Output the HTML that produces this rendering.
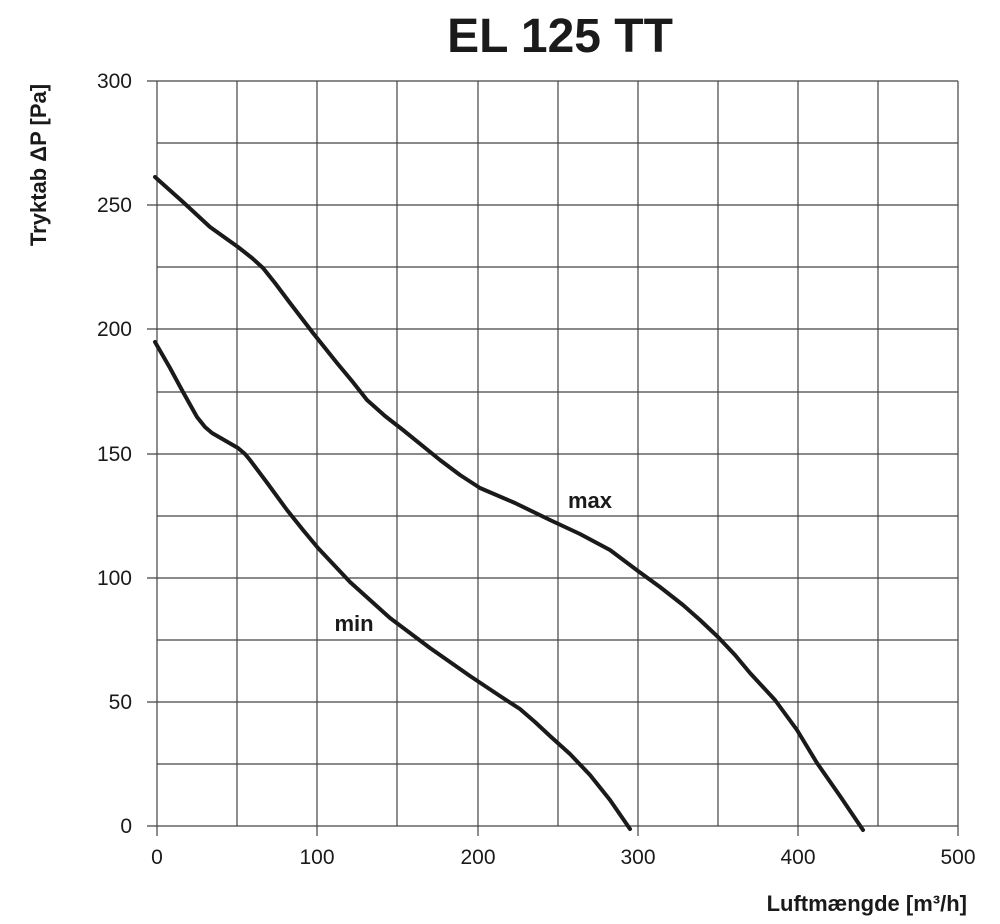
<!DOCTYPE html>
<html><head><meta charset="utf-8"><style>
html,body{margin:0;padding:0;background:#fff}
svg{display:block}
text{font-family:"Liberation Sans",sans-serif;fill:#1a1a1a}
</style></head><body>
<svg width="1000" height="924" viewBox="0 0 1000 924">
<rect width="1000" height="924" fill="#fff"/>
<g stroke="#444" stroke-width="1.2" fill="none">
<line x1="157" y1="81" x2="157" y2="826"/>
<line x1="237" y1="81" x2="237" y2="826"/>
<line x1="317" y1="81" x2="317" y2="826"/>
<line x1="397" y1="81" x2="397" y2="826"/>
<line x1="478" y1="81" x2="478" y2="826"/>
<line x1="558" y1="81" x2="558" y2="826"/>
<line x1="638" y1="81" x2="638" y2="826"/>
<line x1="718" y1="81" x2="718" y2="826"/>
<line x1="798" y1="81" x2="798" y2="826"/>
<line x1="878" y1="81" x2="878" y2="826"/>
<line x1="958" y1="81" x2="958" y2="826"/>
<line x1="147" y1="81" x2="958" y2="81"/>
<line x1="157" y1="143" x2="958" y2="143"/>
<line x1="147" y1="205" x2="958" y2="205"/>
<line x1="157" y1="267" x2="958" y2="267"/>
<line x1="147" y1="329" x2="958" y2="329"/>
<line x1="157" y1="392" x2="958" y2="392"/>
<line x1="147" y1="454" x2="958" y2="454"/>
<line x1="157" y1="516" x2="958" y2="516"/>
<line x1="147" y1="578" x2="958" y2="578"/>
<line x1="157" y1="640" x2="958" y2="640"/>
<line x1="147" y1="702" x2="958" y2="702"/>
<line x1="157" y1="764" x2="958" y2="764"/>
<line x1="147" y1="826" x2="958" y2="826"/>
<line x1="157" y1="826" x2="157" y2="836"/>
<line x1="317" y1="826" x2="317" y2="836"/>
<line x1="478" y1="826" x2="478" y2="836"/>
<line x1="638" y1="826" x2="638" y2="836"/>
<line x1="798" y1="826" x2="798" y2="836"/>
<line x1="958" y1="826" x2="958" y2="836"/>
</g>
<g stroke="#1a1a1a" stroke-width="4" fill="none" stroke-linejoin="round" stroke-linecap="round">
<polyline points="155,177 183,202 210,227 238,247 252,258 263,268 275,283 290,303 313,333 337,363 352,381 367,400 385,416 403,430 440,460 460,475 480,488 515,503 550,520 580,534 610,550 638,571 660,587 683,605 700,620 718,637 735,655 750,673 775,700 797,730 817,763 840,796 863,830"/>
<polyline points="155,342 170,368 183,392 197,417 205,427 212,433 238,448 245,454 250,460 268,484 287,510 303,530 318,548 350,582 390,618 430,648 470,676 500,696 520,709 535,722 550,736 570,754 590,775 610,800 630,829"/>
</g>
<text x="560" y="52" font-size="48" font-weight="bold" text-anchor="middle">EL 125 TT</text>
<g font-size="21" text-anchor="end">
<text x="132" y="88">300</text><text x="132" y="212">250</text><text x="132" y="336">200</text>
<text x="132" y="461">150</text><text x="132" y="585">100</text><text x="132" y="709">50</text><text x="132" y="833">0</text>
</g>
<g font-size="21" text-anchor="middle">
<text x="157" y="864">0</text><text x="317" y="864">100</text><text x="478" y="864">200</text>
<text x="638" y="864">300</text><text x="798" y="864">400</text><text x="958" y="864">500</text>
</g>
<text x="590" y="508" font-size="22" font-weight="bold" text-anchor="middle">max</text>
<text x="354" y="631" font-size="22" font-weight="bold" text-anchor="middle">min</text>
<text x="967" y="911" font-size="22" font-weight="bold" text-anchor="end">Luftmængde [m³/h]</text>
<text transform="translate(46,165) rotate(-90)" font-size="22" font-weight="bold" text-anchor="middle">Tryktab ΔP [Pa]</text>
</svg>
</body></html>
